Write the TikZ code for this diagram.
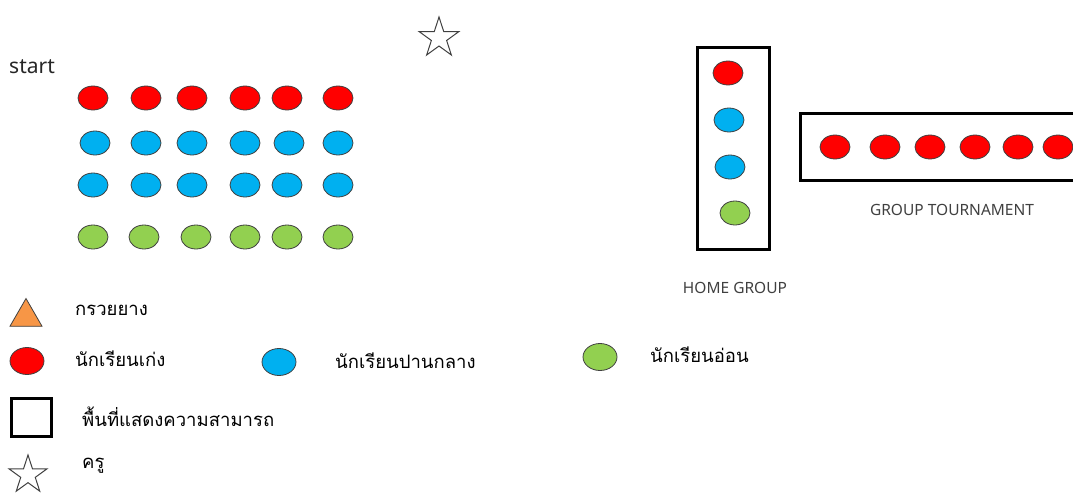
\documentclass[tikz,border=0pt]{standalone}
\usepackage{fontspec}
\setmainfont{Noto Sans}
\newfontfamily\thaifont[Script=Thai]{Loma}
\usetikzlibrary{shapes.geometric}
\definecolor{sred}{HTML}{FF0000}
\definecolor{sblue}{HTML}{00B0F0}
\definecolor{sgreen}{HTML}{92D050}
\definecolor{sorange}{HTML}{F79646}
\tikzset{
 stud/.style={ellipse, draw=black!75, line width=0.8pt, minimum width=30pt, minimum height=24pt, inner sep=0pt},
 good/.style={stud, fill=sred},
 mid/.style={stud, fill=sblue},
 weak/.style={stud, fill=sgreen},
 bigstud/.style={stud, minimum width=34pt, minimum height=27pt},
 area/.style={draw=black, line width=3pt, inner sep=0pt},
 teacher/.style={star, star points=5, star point ratio=2.618, draw=black!75, line width=1pt, minimum size=#1, inner sep=0pt},
 cone/.style={regular polygon, regular polygon sides=3, draw=black!75, line width=0.8pt, fill=sorange, minimum size=37pt, inner sep=0pt},
 thai/.style={font=\thaifont\fontsize{18.5}{20}\selectfont, anchor=west, inner sep=0pt, text=black},
 lbl/.style={font=\fontsize{15.5}{17}\selectfont, text=black!75, inner sep=0pt},
}
\begin{document}
\begin{tikzpicture}[x=1pt,y=-1pt]
\clip (0,0) rectangle (1073,493);
\useasboundingbox (0,0) rectangle (1073,493);

% teacher star top
\node[teacher=42pt] (t0) at (439,38) {};
\node[font=\fontsize{21}{23}\selectfont, text=black!85, anchor=west, inner sep=0pt] (start) at (9,67) {start};

% grid of students
\foreach \x [count=\i] in {93,146,192,245,287,338} \node[good] (a\i) at (\x,98) {};
\foreach \x [count=\i] in {95,146,192,245,289,338} \node[mid] (b\i) at (\x,143) {};
\foreach \x [count=\i] in {93,146,192,245,287,338} \node[mid] (c\i) at (\x,185) {};
\foreach \x [count=\i] in {93,144,196,245,287,338} \node[weak] (d\i) at (\x,237) {};

% home group
\node[area, minimum width=72pt, minimum height=202pt] (home) at (733.5,148.5) {};
\node[good] (h1) at (728,73) {};
\node[mid] (h2) at (729,120) {};
\node[mid] (h3) at (730,167) {};
\node[weak] (h4) at (735,213) {};
\node[lbl] (homel) at (735,288) {HOME GROUP};

% group tournament
\node[area, anchor=north west, minimum width=320pt, minimum height=67pt] (tour) at (798.5,112) {};
\foreach \x [count=\i] in {835,885,930,975,1018,1058} \node[good] (g\i) at (\x,147) {};
\node[lbl] (tourl) at (952,210) {GROUP TOURNAMENT};

% legend
\node[cone] (lcone) at (26,317) {};
\node[thai] (tcone) at (75,310) {กรวยยาง};
\node[good, bigstud] (lgood) at (27,361) {};
\node[thai] (tgood) at (75,359) {นักเรียนเก่ง};
\node[mid, bigstud] (lmid) at (279,362) {};
\node[thai] (tmid) at (335,361) {นักเรียนปานกลาง};
\node[weak, bigstud] (lweak) at (600,357) {};
\node[thai] (tweak) at (650,355) {นักเรียนอ่อน};
\node[area, minimum width=40pt, minimum height=38pt] (larea) at (31,417.5) {};
\node[thai] (tarea) at (82,417) {พื้นที่แสดงความสามารถ};
\node[teacher=40pt] (lstar) at (28,475) {};
\node[thai] (tstar) at (82,466) {ครู};
\end{tikzpicture}
\end{document}
